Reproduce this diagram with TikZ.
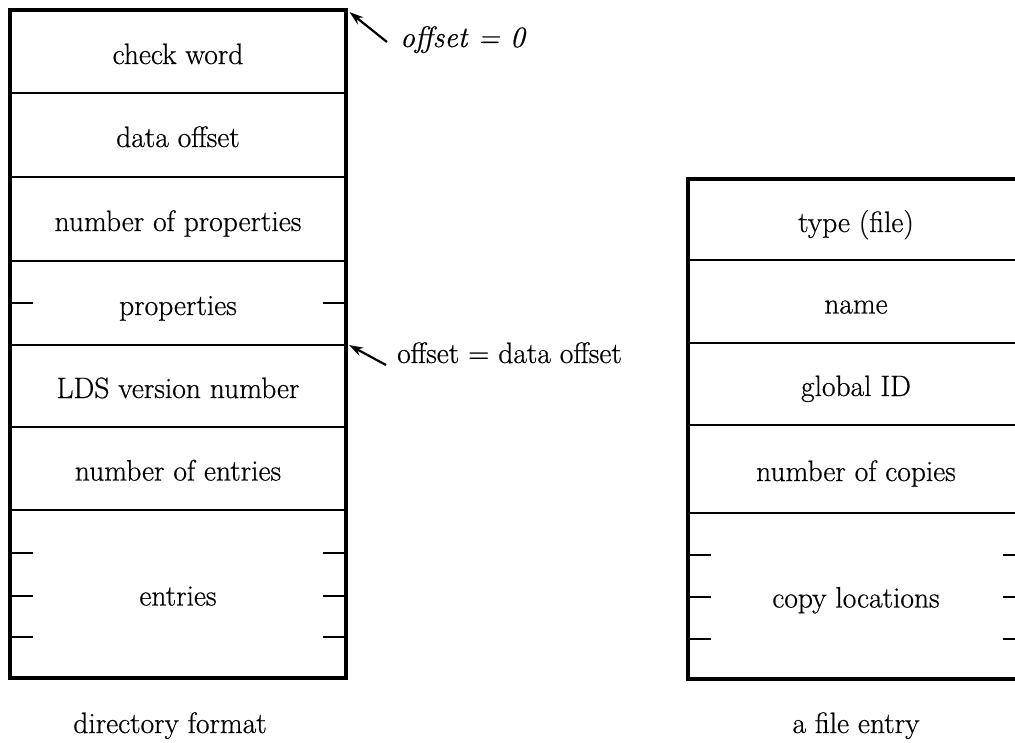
\documentclass[tikz,border=0pt]{standalone}
\usepackage{fontspec}
\setmainfont{Latin Modern Roman}[FakeBold=0.6]
\usetikzlibrary{arrows.meta}
\begin{document}
\begin{tikzpicture}[x=1pt,y=-1pt,
  txt/.style={font=\fontsize{29.5}{34}\selectfont},
  cell/.style={txt, draw, line width=2.8pt, minimum width=334pt, inner sep=0pt,
               text height=27pt, text depth=3pt},
  frame/.style={line width=3.6pt},
  tickmark/.style={line width=2.2pt},
  arr/.style={line width=2.2pt, -{Stealth[length=14pt,width=9pt]}},
  lbl/.style={txt, inner sep=0pt}]
\useasboundingbox (0,0) rectangle (1015,742);
\clip (0,0) rectangle (1015,742);

% directory format
\node[cell, minimum height=82pt]  (cw)  at (178,52)    {check word};
\node[cell, minimum height=84pt]  (do)  at (178,135)   {data offset};
\node[cell, minimum height=84pt]  (np)  at (178,219)   {number of properties};
\node[cell, minimum height=84pt]  (pr)  at (178,303)   {properties};
\node[cell, minimum height=82pt]  (lds) at (178,386)   {LDS version number};
\node[cell, minimum height=83pt]  (ne)  at (178,468.5) {number of entries};
\node[cell, minimum height=167pt] (en)  at (178,593.5) {entries};
\draw[frame] (cw.north west) rectangle (en.south east);

\draw[tickmark] (11,303) -- (33,303) (323,303) -- (345,303);
\foreach \y in {553,596,637}
  \draw[tickmark] (11,\y) -- (33,\y) (323,\y) -- (345,\y);

\node[lbl, anchor=base] (df) at (170,733) {directory format};

% offsets
\node[lbl, anchor=base west] (o0) at (400,47) {\itshape offset = 0};
\coordinate (t0) at (387,42);
\draw[arr, shorten >=4pt] (t0) -- (cw.north east);

\node[lbl, anchor=base west] (o1) at (397,363) {offset = data offset};
\coordinate (t1) at (386,365);
\draw[arr, shorten >=3pt] (t1) -- (lds.north east);

% a file entry
\node[cell, minimum height=80pt]  (ty)  at (856,220)   {type (file)};
\node[cell, minimum height=83pt]  (na)  at (856,301.5) {name};
\node[cell, minimum height=82pt]  (gid) at (856,384)   {global ID};
\node[cell, minimum height=88pt]  (nc)  at (856,469)   {number of copies};
\node[cell, minimum height=165pt] (cl)  at (856,595.5) {copy locations};
\draw[frame] (ty.north west) rectangle (cl.south east);

\foreach \y in {555,597,639}
  \draw[tickmark] (689,\y) -- (711,\y) (1003,\y) -- (1023,\y);

\node[lbl, anchor=base] (fe) at (856,733) {a file entry};
\end{tikzpicture}
\end{document}
